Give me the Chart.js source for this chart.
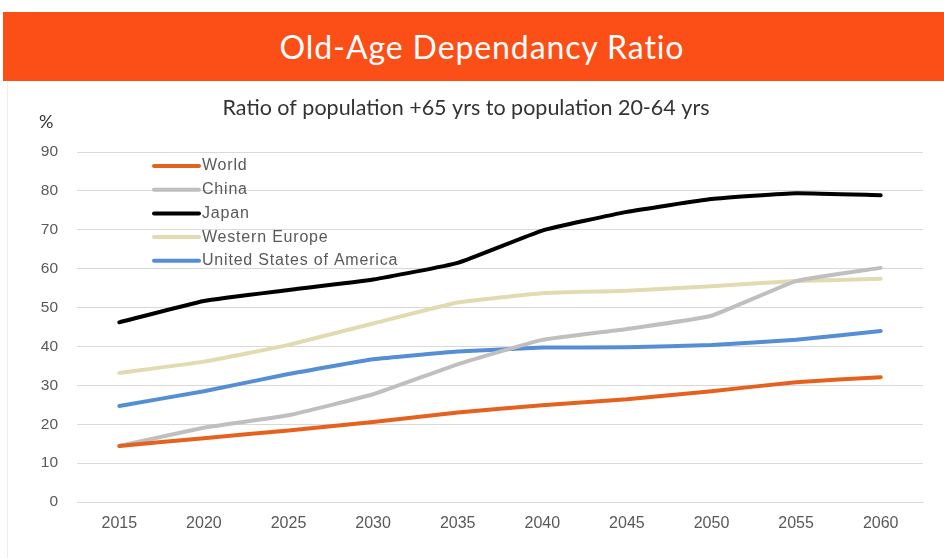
<!DOCTYPE html>
<html>
<head>
<meta charset="utf-8">
<script src="https://cdn.jsdelivr.net/npm/chart.js@4"></script>
<style>
  html, body { margin: 0; padding: 0; background: #ffffff; }
  #wrap { position: relative; width: 944px; height: 558px; overflow: hidden; }
  #banner { position: absolute; left: 3px; top: 12px; width: 941px; height: 69px; background: #FC4F17;
    color: #ffffff; font-family: Lato, sans-serif; font-size: 32px; letter-spacing: 0.9px; text-align: center;
    line-height: 69px; z-index: 2; text-indent: 17px; }
  #frame { position: absolute; left: 7px; top: 81px; width: 1px; height: 477px; background: #eeeeee; }
  canvas { position: absolute; left: 0; top: 0; }
</style>
</head>
<body>
<div id="wrap">
  <div id="banner">Old-Age Dependancy Ratio</div>
  <div id="frame"></div>
  <canvas id="c" width="944" height="558"></canvas>
</div>
<script>
const years = ["2015","2020","2025","2030","2035","2040","2045","2050","2055","2060"];
const world = [14.4, 16.4, 18.4, 20.6, 23.0, 24.9, 26.4, 28.5, 30.8, 32.1];
const china = [14.4, 19.1, 22.3, 27.7, 35.4, 41.7, 44.5, 47.9, 56.8, 60.2];
const japan = [46.2, 51.7, 54.5, 57.2, 61.5, 69.8, 74.6, 77.9, 79.4, 78.9];
const westernEurope = [33.2, 36.1, 40.4, 45.9, 51.3, 53.7, 54.3, 55.5, 56.8, 57.4];
const usa = [24.7, 28.5, 32.9, 36.7, 38.7, 39.7, 39.8, 40.4, 41.7, 44.0];
const yTicks = [0, 10, 20, 30, 40, 50, 60, 70, 80, 90];
const subtitle = "Ratio of population +65 yrs to population 20-64 yrs";
const unitLabel = "%";

const mk = (label, data, color) => ({
  label, data, borderColor: color, backgroundColor: color, borderWidth: 4,
  pointRadius: 0, tension: 0.12, borderCapStyle: 'round', fill: false
});

const decor = {
  id: 'decor',
  afterDraw(chart) {
    const ctx = chart.ctx;
    ctx.save();
    ctx.fillStyle = '#333333';
    ctx.font = '21.5px Lato, sans-serif';
    ctx.textAlign = 'center';
    ctx.textBaseline = 'middle';
    ctx.fillText(subtitle, 466, 108);
    ctx.font = '18px Lato, sans-serif';
    ctx.textAlign = 'left';
    ctx.fillText(unitLabel, 39, 122);
    // legend
    ctx.font = '16px "Liberation Sans", sans-serif';
    try { ctx.letterSpacing = '0.8px'; } catch (e) {}
    ctx.fillStyle = '#595959';
    chart.data.datasets.forEach((ds, i) => {
      const y = 166 + i * 23.7;
      ctx.strokeStyle = ds.borderColor;
      ctx.lineWidth = 4;
      ctx.lineCap = 'round';
      ctx.beginPath();
      ctx.moveTo(154, y);
      ctx.lineTo(199, y);
      ctx.stroke();
      ctx.fillText(ds.label, 202, y);
    });
    ctx.restore();
  }
};

new Chart(document.getElementById('c'), {
  type: 'line',
  data: {
    labels: years,
    datasets: [
      mk('World', world, '#E5621E'),
      mk('China', china, '#BFBFBF'),
      mk('Japan', japan, '#000000'),
      mk('Western Europe', westernEurope, '#E2DAB0'),
      mk('United States of America', usa, '#558ED5')
    ]
  },
  options: {
    responsive: false,
    animation: false,
    layout: { padding: { top: 152, left: 0, right: 21, bottom: 16 } },
    plugins: { legend: { display: false }, title: { display: false }, tooltip: { enabled: false } },
    scales: {
      x: {
        offset: true,
        grid: { display: false, drawTicks: false },
        border: { display: true, color: '#d9d9d9', width: 1 },
        ticks: { color: '#595959', font: { family: '"Liberation Sans Narrow", "Liberation Sans", sans-serif', size: 16 }, padding: 12, maxRotation: 0 },
        afterFit(s) { s.height = 40; }
      },
      y: {
        min: 0, max: 90,
        afterBuildTicks(s) { s.ticks = yTicks.map(v => ({ value: v })); },
        grid: { color: '#d9d9d9', lineWidth: 1, drawTicks: false },
        border: { display: false },
        ticks: { color: '#595959', font: { family: '"Liberation Sans", sans-serif', size: 15.5 }, padding: 19 },
        afterFit(s) { s.width = 77; }
      }
    }
  },
  plugins: [decor]
});
</script>
</body>
</html>
